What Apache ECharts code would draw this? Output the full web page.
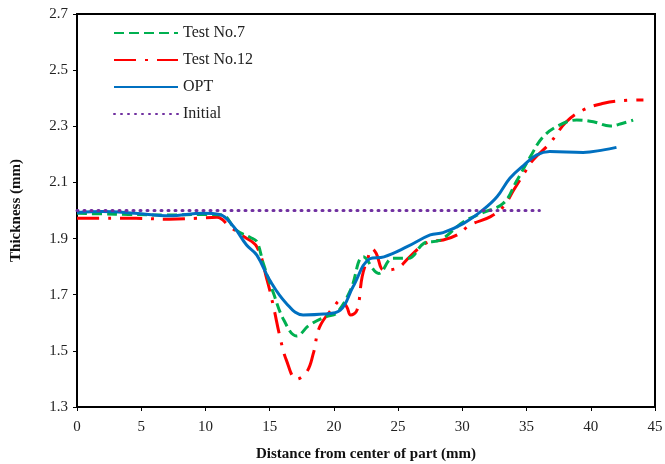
<!DOCTYPE html>
<html><head><meta charset="utf-8">
<script src="https://cdn.jsdelivr.net/npm/echarts@6/dist/echarts.min.js"></script>
<style>html,body{margin:0;padding:0;background:#fff}#c{width:665px;height:464px}</style>
</head><body><div id="c"></div>
<script>
const test7X = [0,2,4,7,10,11.3,12.4,13.5,14.0,14.5,15.3,16.1,17.1,18.1,19.4,20.2,21.3,22.3,23.5,24.6,25.8,27.0,28.3,30.1,31.6,33.2,34.2,35.3,36.3,37.6,38.9,40.2,41.5,42.5,43.3];
const test7Y = [1.99,1.988,1.986,1.984,1.986,1.984,1.93,1.904,1.889,1.812,1.705,1.61,1.553,1.592,1.622,1.634,1.717,1.835,1.776,1.83,1.83,1.883,1.895,1.96,1.992,2.026,2.103,2.192,2.263,2.305,2.322,2.316,2.301,2.311,2.322];
const test12X = [0,2,4.6,7.2,9.3,10.9,11.9,13.0,14.0,14.8,15.3,15.8,16.3,17.1,17.9,18.4,18.9,20.0,20.5,21.0,21.3,21.8,22.2,22.6,23.0,23.3,23.9,24.9,25.9,27.2,28.5,29.6,30.6,32.2,33.2,34.0,34.8,35.5,36.8,38.1,39.4,41.0,42.3,44.1];
const test12Y = [1.972,1.972,1.972,1.969,1.972,1.976,1.942,1.907,1.871,1.752,1.657,1.55,1.467,1.399,1.426,1.491,1.586,1.657,1.679,1.657,1.628,1.645,1.764,1.824,1.863,1.847,1.788,1.794,1.835,1.885,1.895,1.913,1.948,1.978,2.014,2.073,2.132,2.18,2.239,2.316,2.358,2.382,2.391,2.394];
const optX = [0,2,4.5,7.2,9.8,11.1,12.2,13.2,14.0,15.0,16.3,17.6,19.2,20.5,21.5,22.8,23.9,25.7,27.5,28.5,30.1,31.6,32.7,33.7,34.8,35.8,36.8,39.4,41.0,42.0];
const optY = [1.993,1.996,1.99,1.981,1.99,1.986,1.942,1.877,1.841,1.752,1.669,1.628,1.631,1.645,1.729,1.828,1.835,1.871,1.913,1.921,1.954,2.002,2.049,2.115,2.162,2.198,2.21,2.207,2.216,2.225];
const initialX = [0,36];
const initialY = [2.0,2.0];
const xTicks = [0,5,10,15,20,25,30,35,40,45];
const yTicks = [1.3,1.5,1.7,1.9,2.1,2.3,2.5,2.7];

const zip = (a,b)=>a.map((v,i)=>[v,b[i]]);
const serif = '"Liberation Serif","DejaVu Serif",serif';
const chart = echarts.init(document.getElementById('c'));
chart.setOption({
  animation:false,
  backgroundColor:'#fff',
  grid:{left:77,right:10,top:14,bottom:57,show:true,borderColor:'#000',borderWidth:2,
    containLabel:false,outerBoundsMode:'none'},
  legend:{
    left:108, top:20, orient:'vertical', itemGap:11, itemWidth:64, itemHeight:16,
    itemStyle:{opacity:0},
    textStyle:{fontFamily:serif,fontSize:16,color:'#222'},
    data:['Test No.7','Test No.12','OPT','Initial']
  },
  xAxis:{type:'value',min:0,max:45,interval:5,
    name:'Distance from center of part (mm)',nameLocation:'middle',nameGap:40,
    nameTextStyle:{fontFamily:serif,fontSize:15,fontWeight:'bold',color:'#111'},
    axisLine:{lineStyle:{color:'#000',width:2}},
    axisTick:{show:true,length:4,lineStyle:{color:'#000'}},
    axisLabel:{fontFamily:serif,fontSize:15,color:'#222',margin:13,
      formatter:v=>xTicks.includes(v)?String(v):''},
    splitLine:{show:false}},
  yAxis:{type:'value',min:1.3,max:2.7,interval:0.2,
    name:'Thickness (mm)',nameLocation:'middle',nameGap:53,nameRotate:90,
    nameTextStyle:{fontFamily:serif,fontSize:15,fontWeight:'bold',color:'#111'},
    axisLine:{show:true,lineStyle:{color:'#000',width:2}},
    axisTick:{show:true,length:4,lineStyle:{color:'#000'}},
    axisLabel:{fontFamily:serif,fontSize:15,color:'#222',margin:9,
      formatter:v=>{const s=v.toFixed(1);return yTicks.map(t=>t.toFixed(1)).includes(s)?s:'';}},
    splitLine:{show:false}},
  series:[
    {name:'Test No.7',type:'line',smooth:0.4,symbol:'none',data:zip(test7X,test7Y),
      lineStyle:{color:'#00B050',width:3,type:[10,5]},itemStyle:{color:'#00B050'},z:3},
    {name:'Test No.12',type:'line',smooth:0.4,symbol:'none',data:zip(test12X,test12Y),
      lineStyle:{color:'#FF0000',width:3,type:[22,9,3,9]},itemStyle:{color:'#FF0000'},z:2},
    {name:'OPT',type:'line',smooth:0.4,symbol:'none',data:zip(optX,optY),
      lineStyle:{color:'#0070C0',width:3},itemStyle:{color:'#0070C0'},z:4},
    {name:'Initial',type:'line',symbol:'none',data:zip(initialX,initialY),
      lineStyle:{color:'#7030A0',width:3,type:[1,6],cap:'round'},itemStyle:{color:'#7030A0'},z:5}
  ]
});
</script></body></html>
